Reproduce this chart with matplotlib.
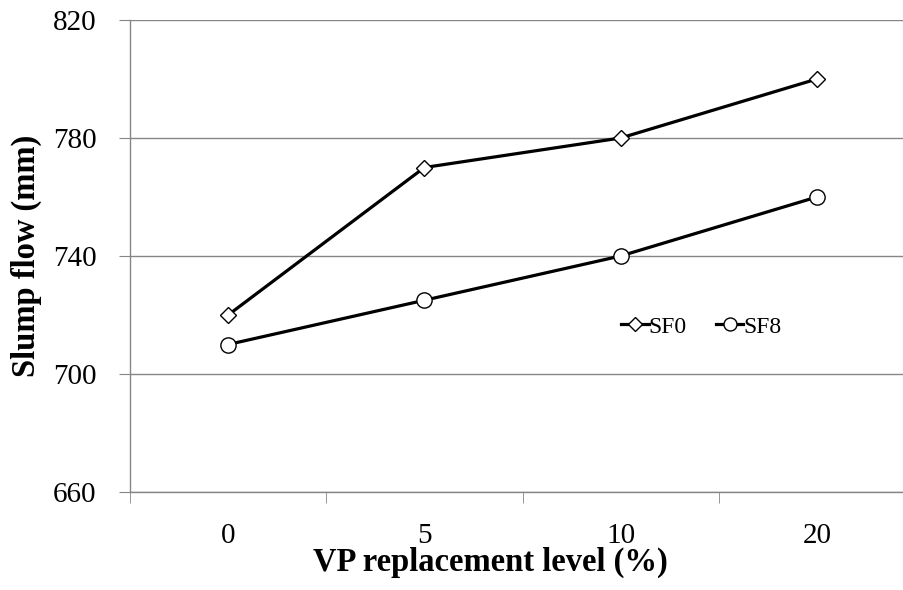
import matplotlib
matplotlib.use("Agg")
import matplotlib.pyplot as plt
from matplotlib.ticker import FixedLocator

categories = ["0", "5", "10", "20"]
sf0 = [720, 770, 780, 800]
sf8 = [710, 725, 740, 760]
yticks = [660, 700, 740, 780, 820]

plt.rcParams['font.family'] = ['Liberation Serif', 'DejaVu Serif']

fig = plt.figure(figsize=(9.04, 5.90), dpi=100)
ax = fig.add_axes([130/904, 98/590, 785/904, 472/590])

x = list(range(len(categories)))
ax.plot(x, sf0, color='black', lw=2.3, marker='D', ms=8, mfc='white', mec='black', mew=1.0, label='SF0')
ax.plot(x, sf8, color='black', lw=2.3, marker='o', ms=11, mfc='white', mec='black', mew=1.0, label='SF8')

ax.set_xlim(-0.5, len(categories) - 0.5)
ax.set_ylim(660, 820)
ax.set_yticks(yticks)
ax.set_xticks(x)
ax.set_xticklabels(categories)
ax.xaxis.set_minor_locator(FixedLocator([i - 0.5 for i in range(len(categories) + 1)]))
ax.tick_params(axis='x', which='major', length=0, labelsize=21, pad=22)
ax.tick_params(axis='x', which='minor', length=8, color='#868686', direction='out')
ax.tick_params(axis='y', length=8, color='#868686', labelsize=21, pad=16)

ax.grid(axis='y', color='#868686', lw=1.0)
ax.set_axisbelow(True)
for s in ['top', 'right']:
    ax.spines[s].set_visible(False)
for s in ['left', 'bottom']:
    ax.spines[s].set_color('#868686')
    ax.spines[s].set_linewidth(1.0)

ax.set_xlabel('VP replacement level (%)', fontsize=23.5, fontweight='bold', labelpad=0)
ax.xaxis.set_label_coords(0.459, -0.115)
ax.set_ylabel('Slump flow (mm)', fontsize=23.5, fontweight='bold', labelpad=8)

ax.legend(loc='center', bbox_to_anchor=(0.728, 0.35), ncol=2, frameon=False,
          fontsize=17, handlelength=1.15, handletextpad=0.0, columnspacing=1.25,
          markerscale=0.85)

fig.savefig('out.png', dpi=100)
